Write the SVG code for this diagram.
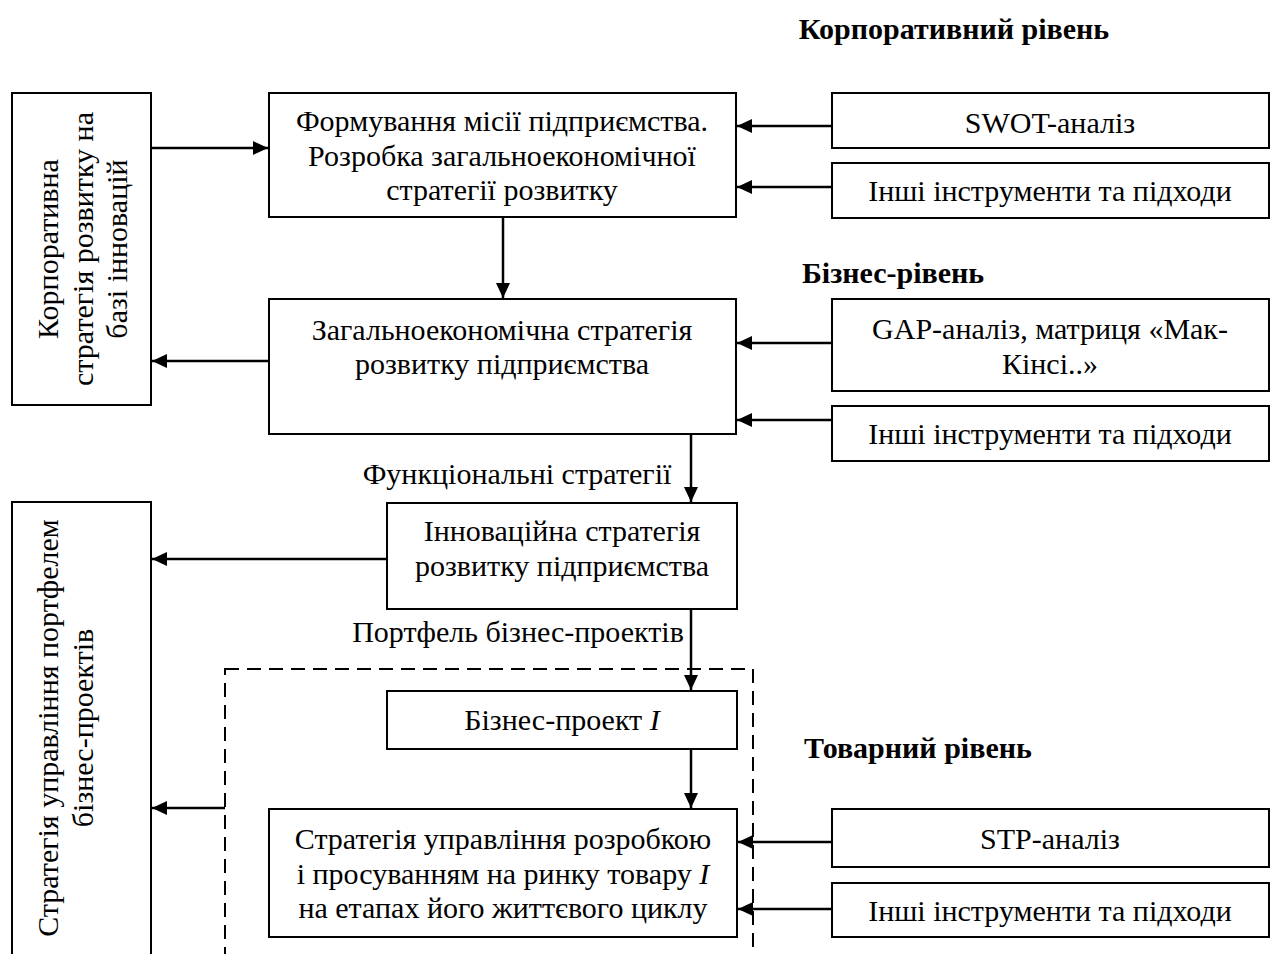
<svg xmlns="http://www.w3.org/2000/svg" width="1274" height="954" viewBox="0 0 1274 954">
<defs>
<marker id="ah" markerUnits="userSpaceOnUse" markerWidth="16" markerHeight="14" refX="15" refY="7" orient="auto">
<path d="M0,0 L15,7 L0,14 Z" fill="#000"/>
</marker>
<style>
.box{fill:#fff;stroke:#000;stroke-width:2}
.t{font-family:"Liberation Serif","Times New Roman",serif;font-size:30px;fill:#000}
.c{text-anchor:middle}
.b{font-weight:bold}
.ln{stroke:#000;stroke-width:2.5;fill:none}
.ar{stroke:#000;stroke-width:2.5;fill:none;marker-end:url(#ah)}
.dash{fill:none;stroke:#000;stroke-width:2;stroke-dasharray:14,8}
</style>
</defs>
<rect width="1274" height="954" fill="#fff"/>

<g id="labels">
<text class="t c b" x="954" y="39">Корпоративний рівень</text>
<text class="t b" x="802" y="283">Бізнес-рівень</text>
<text class="t b" x="804" y="758">Товарний рівень</text>
<text class="t c" x="517" y="484">Функціональні стратегії</text>
<text class="t c" x="518" y="642">Портфель бізнес-проектів</text>
</g>

<rect id="product-group" class="dash" x="225" y="669" width="528" height="300"/>

<g id="corp-strategy">
<rect class="box" x="12" y="93" width="139" height="312"/>
<g transform="translate(0,249) rotate(-90)">
<text class="t c" x="0" y="58">Корпоративна</text>
<text class="t c" x="0" y="93">стратегія розвитку на</text>
<text class="t c" x="0" y="127">базі інновацій</text>
</g>
</g>

<g id="portfolio-strategy">
<rect class="box" x="12" y="502" width="139" height="470"/>
<g transform="translate(0,728) rotate(-90)">
<text class="t c" x="0" y="58">Стратегія управління портфелем</text>
<text class="t c" x="0" y="93">бізнес-проектів</text>
</g>
</g>

<g id="mission">
<rect class="box" x="269" y="93" width="467" height="124"/>
<text class="t c" x="502" y="131">Формування місії підприємства.</text>
<text class="t c" x="502" y="166">Розробка загальноекономічної</text>
<text class="t c" x="502" y="200">стратегії розвитку</text>
</g>

<g id="general-strategy">
<rect class="box" x="269" y="299" width="467" height="135"/>
<text class="t c" x="502" y="340">Загальноекономічна стратегія</text>
<text class="t c" x="502" y="374">розвитку підприємства</text>
</g>

<g id="innovation-strategy">
<rect class="box" x="387" y="503" width="350" height="106"/>
<text class="t c" x="562" y="541">Інноваційна стратегія</text>
<text class="t c" x="562" y="576">розвитку підприємства</text>
</g>

<g id="business-project">
<rect class="box" x="387" y="691" width="350" height="58"/>
<text class="t c" x="562" y="730">Бізнес-проект <tspan font-style="italic">I</tspan></text>
</g>

<g id="product-strategy">
<rect class="box" x="269" y="809" width="468" height="128"/>
<text class="t c" x="503" y="849">Стратегія управління розробкою</text>
<text class="t c" x="503" y="884">і просуванням на ринку товару <tspan font-style="italic">I</tspan></text>
<text class="t c" x="503" y="918">на етапах його життєвого циклу</text>
</g>

<g id="swot">
<rect class="box" x="832" y="93" width="437" height="55"/>
<text class="t c" x="1050" y="133">SWOT-аналіз</text>
</g>
<g id="other1">
<rect class="box" x="832" y="163" width="437" height="55"/>
<text class="t c" x="1050" y="201">Інші інструменти та підходи</text>
</g>
<g id="gap">
<rect class="box" x="832" y="299" width="437" height="92"/>
<text class="t c" x="1050" y="339">GAP-аналіз, матриця «Мак-</text>
<text class="t c" x="1050" y="374">Кінсі..»</text>
</g>
<g id="other2">
<rect class="box" x="832" y="406" width="437" height="55"/>
<text class="t c" x="1050" y="444">Інші інструменти та підходи</text>
</g>
<g id="stp">
<rect class="box" x="832" y="809" width="437" height="58"/>
<text class="t c" x="1050" y="849">STP-аналіз</text>
</g>
<g id="other3">
<rect class="box" x="832" y="883" width="437" height="54"/>
<text class="t c" x="1050" y="921">Інші інструменти та підходи</text>
</g>

<g id="connectors">
<line class="ar" x1="151" y1="148" x2="268" y2="148"/>
<line class="ar" x1="269" y1="361" x2="152" y2="361"/>
<line class="ar" x1="503" y1="217" x2="503" y2="298"/>
<line class="ar" x1="691" y1="434" x2="691" y2="502"/>
<line class="ar" x1="387" y1="559" x2="152" y2="559"/>
<line class="ar" x1="691" y1="609" x2="691" y2="690"/>
<line class="ar" x1="691" y1="749" x2="691" y2="808"/>
<line class="ar" x1="225" y1="808" x2="152" y2="808"/>
<line class="ar" x1="832" y1="126" x2="737" y2="126"/>
<line class="ar" x1="832" y1="187" x2="737" y2="187"/>
<line class="ar" x1="832" y1="343" x2="737" y2="343"/>
<line class="ar" x1="832" y1="420" x2="737" y2="420"/>
<line class="ar" x1="832" y1="842" x2="738" y2="842"/>
<line class="ar" x1="832" y1="909" x2="738" y2="909"/>
</g>
</svg>
